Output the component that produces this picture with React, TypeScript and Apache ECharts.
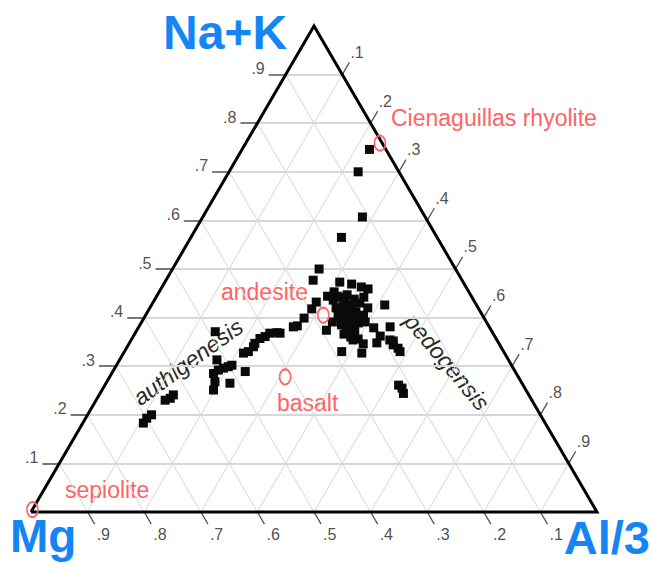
import React, { useEffect, useRef } from "react";
import * as echarts from "echarts";

// Ternary compositions: Na+K fraction and Al/3 fraction (Mg = 1 - both)
const sampleNaK = [
  0.746, 0.7, 0.607, 0.565,
  0.5, 0.477, 0.473, 0.469, 0.463, 0.459, 0.432, 0.444, 0.418, 0.399, 0.383, 0.374,
  0.426, 0.405, 0.381, 0.379, 0.362, 0.354, 0.346, 0.348, 0.33, 0.327, 0.352, 0.337,
  0.354, 0.344, 0.33,
  0.261, 0.255, 0.244,
  0.436, 0.442, 0.447, 0.438, 0.43, 0.42, 0.424, 0.418, 0.412, 0.403, 0.399, 0.395,
  0.389, 0.385, 0.379, 0.372, 0.366, 0.36, 0.356, 0.453, 0.442, 0.42, 0.391, 0.391,
  0.432, 0.426, 0.412, 0.409, 0.403, 0.395, 0.389, 0.374, 0.381, 0.444, 0.403,
  0.371, 0.313, 0.285, 0.292, 0.296, 0.299, 0.302, 0.268, 0.251, 0.265, 0.289, 0.327,
  0.33, 0.34, 0.347, 0.357, 0.361, 0.368, 0.369, 0.241, 0.234, 0.23, 0.2, 0.193,
  0.183, 0.368, 0.381,
];
const sampleAl = [
  0.225, 0.228, 0.282, 0.266,
  0.259, 0.26, 0.309, 0.332, 0.352, 0.366, 0.288, 0.302, 0.287, 0.283, 0.279, 0.335,
  0.412, 0.385, 0.444, 0.416, 0.436, 0.392, 0.414, 0.437, 0.384, 0.421, 0.464, 0.48,
  0.457, 0.468, 0.487,
  0.519, 0.528, 0.536,
  0.316, 0.325, 0.335, 0.352, 0.366, 0.329, 0.339, 0.355, 0.368, 0.341, 0.355, 0.37,
  0.384, 0.356, 0.371, 0.386, 0.37, 0.385, 0.4, 0.309, 0.367, 0.385, 0.395, 0.337,
  0.339, 0.354, 0.34, 0.354, 0.369, 0.352, 0.368, 0.37, 0.379, 0.319, 0.382,
  0.14, 0.172, 0.18, 0.185, 0.192, 0.199, 0.204, 0.191, 0.197, 0.219, 0.234, 0.212,
  0.219, 0.223, 0.222, 0.226, 0.233, 0.238, 0.25, 0.131, 0.129, 0.122, 0.113, 0.108,
  0.107, 0.256, 0.273,
];

// Reference rocks (red "O" markers)
const refNames = ["Cienaguillas rhyolite", "andesite", "basalt", "sepiolite"];
const refNaK = [0.759, 0.405, 0.278, 0.005];
const refAl = [0.237, 0.314, 0.31, 0.0];

const gridLevels = [0.1, 0.2, 0.3, 0.4, 0.5, 0.6, 0.7, 0.8, 0.9];
const tickLabels = [".1", ".2", ".3", ".4", ".5", ".6", ".7", ".8", ".9"];

const axisTitles = ["Na+K", "Mg", "Al/3"];
const trendLabels = ["authigenesis", "pedogensis"];

// ternary (Na+K, Al) -> cartesian (x, y)
const toXY = (n: number, a: number): [number, number] => [a + n / 2, n];

export default function App() {
  const ref = useRef<HTMLDivElement>(null);

  useEffect(() => {
    if (!ref.current) return;
    const chart = echarts.init(ref.current, null, { renderer: "svg" });

    const FONT = "Liberation Sans, Arial, Helvetica, sans-serif";
    const BLUE = "#1585f6";
    const RED = "#ff6464";

    // Grid lines
    const hLines: number[][][] = [];
    const dLines: number[][][] = [];
    gridLevels.forEach((k) => {
      hLines.push([toXY(k, 0), toXY(k, 1 - k)]);
      dLines.push([toXY(0, k), toXY(1 - k, k)]);
      dLines.push([toXY(0, 1 - k), toXY(1 - k, 0)]);
    });

    // Ticks
    const leftTicks: number[][][] = [];
    const rightTicks: number[][][] = [];
    const bottomTicks: number[][][] = [];
    const leftLab: any[] = [];
    const rightLab: any[] = [];
    const bottomLab: any[] = [];
    gridLevels.forEach((k, i) => {
      const l = toXY(k, 0);
      const le = [l[0] - 0.03, l[1]];
      leftTicks.push([l, le]);
      leftLab.push({ value: le, name: tickLabels[i] });
      const r = toXY(1 - k, k);
      const re = [r[0] + 0.0125, r[1] + 0.025];
      rightTicks.push([r, re]);
      rightLab.push({ value: re, name: tickLabels[i] });
      const b = toXY(0, 1 - k);
      const be = [b[0] + 0.0125, b[1] - 0.025];
      bottomTicks.push([b, be]);
      bottomLab.push({ value: be, name: tickLabels[i] });
    });

    const labelStyle = { color: "#222", fontSize: 16, fontFamily: FONT };

    const linesSeries = (data: number[][][], color: string, width: number, z: number) => ({
      type: "lines",
      coordinateSystem: "cartesian2d",
      polyline: false,
      silent: true,
      z,
      data: data.map((c) => ({ coords: c })),
      lineStyle: { color, width, opacity: 1, type: "solid" },
    });

    const labelSeries = (data: any[], position: string, offset: number[], distance: number) => ({
      type: "scatter",
      symbolSize: 0,
      silent: true,
      clip: false,
      data,
      label: {
        show: true,
        position,
        distance,
        offset,
        formatter: (p: any) => p.name,
        ...labelStyle,
      },
    });

    const triangle = [toXY(0, 0), toXY(0, 1), toXY(1, 0), toXY(0, 0)];

    const option: any = {
      animation: false,
      backgroundColor: "#ffffff",
      grid: { left: 2.7, right: 26.7, top: 1.7, bottom: 2.4 },
      xAxis: { type: "value", min: -0.05, max: 1.05, show: false, splitLine: { show: false } },
      yAxis: { type: "value", min: -0.1, max: 1.05, show: false, splitLine: { show: false } },
      series: [
        linesSeries(dLines, "#d3d6da", 1, 1),
        linesSeries(hLines, "#d2d8de", 1.8, 2),
        linesSeries(leftTicks, "#555", 1.6, 3),
        linesSeries(rightTicks, "#555", 1.3, 3),
        linesSeries(bottomTicks, "#555", 1.3, 3),
        labelSeries(leftLab, "left", [0, -6], 4),
        labelSeries(rightLab, "right", [0, -10], 1),
        labelSeries(bottomLab, "right", [0, 10], 2),
        {
          type: "line",
          data: triangle,
          symbol: "none",
          silent: true,
          clip: false,
          z: 5,
          lineStyle: { color: "#000", width: 3, join: "miter" },
        },
        {
          type: "scatter",
          z: 6,
          symbol: "rect",
          symbolSize: 9,
          clip: false,
          itemStyle: { color: "#0a0a0a", opacity: 1 },
          data: sampleNaK.map((n, i) => toXY(n, sampleAl[i])),
        },
        {
          type: "scatter",
          z: 7,
          symbol: "circle",
          symbolSize: [11, 15],
          clip: false,
          itemStyle: { color: "rgba(255,255,255,0)", borderColor: RED, borderWidth: 1.8, opacity: 1 },
          data: refNaK.map((n, i) => ({ value: toXY(n, refAl[i]), name: refNames[i] })),
        },
      ],
      graphic: [
        {
          type: "text",
          x: 163,
          y: 32,
          style: { text: axisTitles[0], fill: BLUE, fontSize: 48, fontWeight: "bold", fontFamily: FONT, align: "left", verticalAlign: "middle" },
        },
        {
          type: "text",
          x: 10,
          y: 536,
          style: { text: axisTitles[1], fill: BLUE, fontSize: 46, fontWeight: "bold", fontFamily: FONT, align: "left", verticalAlign: "middle" },
        },
        {
          type: "text",
          x: 650,
          y: 537,
          style: { text: axisTitles[2], fill: BLUE, fontSize: 47, fontWeight: "bold", fontFamily: FONT, align: "right", verticalAlign: "middle" },
        },
        {
          type: "text",
          x: 391,
          y: 118,
          style: { text: refNames[0], fill: RED, fontSize: 23, fontFamily: FONT, align: "left", verticalAlign: "middle" },
        },
        {
          type: "text",
          x: 221,
          y: 292,
          style: { text: refNames[1], fill: RED, fontSize: 23, fontFamily: FONT, align: "left", verticalAlign: "middle" },
        },
        {
          type: "text",
          x: 277,
          y: 403,
          style: { text: refNames[2], fill: RED, fontSize: 23, fontFamily: FONT, align: "left", verticalAlign: "middle" },
        },
        {
          type: "text",
          x: 65,
          y: 490,
          style: { text: refNames[3], fill: RED, fontSize: 23, fontFamily: FONT, align: "left", verticalAlign: "middle" },
        },
        {
          type: "text",
          x: 188,
          y: 362,
          rotation: (36 * Math.PI) / 180,
          style: { text: trendLabels[0], fill: "#2a2a2a", fontSize: 23, fontStyle: "italic", fontFamily: FONT, align: "center", verticalAlign: "middle" },
        },
        {
          type: "text",
          x: 447,
          y: 362,
          rotation: (-50 * Math.PI) / 180,
          style: { text: trendLabels[1], fill: "#2a2a2a", fontSize: 23, fontStyle: "italic", fontFamily: FONT, align: "center", verticalAlign: "middle" },
        },
      ],
    };

    chart.setOption(option);
    return () => chart.dispose();
  }, []);

  return (
    <div
      ref={ref}
      style={{ position: "fixed", left: 0, top: 0, width: 652, height: 563, background: "#fff" }}
    />
  );
}
